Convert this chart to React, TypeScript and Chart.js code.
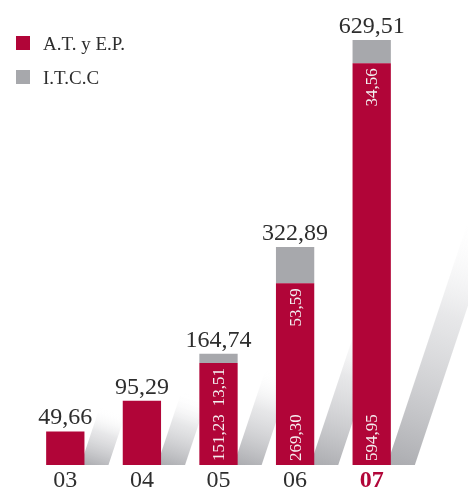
import React, { useEffect, useRef } from 'react';
import { Chart, registerables } from 'chart.js';

Chart.register(...registerables);

const categories = ['03', '04', '05', '06', '07'];
const atValues: (number | null)[] = [49.66, 95.29, 151.23, 269.3, 594.95];
const itccValues: (number | null)[] = [null, null, 13.51, 53.59, 34.56];
const seriesNames = ['A.T. y E.P.', 'I.T.C.C'];
const highlightIndex = 4;

const CRIMSON = '#B10538';
const GREY = '#A7A8AC';
const TEXT = '#2e2e2e';
const FONT = '"Liberation Serif", "Times New Roman", serif';

const fmt = (v: number) => v.toFixed(2).replace('.', ',');
const totals = categories.map((_, i) => (atValues[i] ?? 0) + (itccValues[i] ?? 0));

const stripesPlugin = {
  id: 'stripes',
  beforeDatasetsDraw(chart: any) {
    const ctx = chart.ctx;
    const meta = chart.getDatasetMeta(0);
    const yScale = chart.scales.y;
    meta.data.forEach((bar: any, i: number) => {
      const { x, width, base } = bar.getProps(['x', 'width', 'base'], true);
      const topY = yScale.getPixelForValue(totals[i]);
      const h = base - topY;
      const right = x + width / 2;
      const rise = 40 + 0.5 * h;
      const slope = 3;
      const w = 24;
      const dx = rise / slope;
      const g = ctx.createLinearGradient(right, base, right + dx, base - rise);
      g.addColorStop(0, 'rgba(150,151,156,0.8)');
      g.addColorStop(0.6, 'rgba(195,196,200,0.4)');
      g.addColorStop(1, 'rgba(255,255,255,0)');
      ctx.save();
      ctx.beginPath();
      ctx.moveTo(right - 4, base);
      ctx.lineTo(right + w, base);
      ctx.lineTo(right + w + dx, base - rise);
      ctx.lineTo(right - 4 + dx, base - rise);
      ctx.closePath();
      ctx.fillStyle = g;
      ctx.fill();
      ctx.restore();
    });
  },
};

const labelsPlugin = {
  id: 'barLabels',
  afterDatasetsDraw(chart: any) {
    const ctx = chart.ctx;
    const yScale = chart.scales.y;
    const meta0 = chart.getDatasetMeta(0);
    const inner = 17;
    meta0.data.forEach((bar: any, i: number) => {
      const { x, base } = bar.getProps(['x', 'base'], true);
      const topY = yScale.getPixelForValue(totals[i]);
      ctx.save();
      ctx.font = `24px ${FONT}`;
      ctx.fillStyle = TEXT;
      ctx.textAlign = 'center';
      ctx.textBaseline = 'alphabetic';
      ctx.fillText(fmt(totals[i]), x, topY - 7);
      ctx.restore();
      const g = itccValues[i];
      if (g == null) return;
      ctx.save();
      ctx.font = `${inner}px ${FONT}`;
      ctx.fillStyle = '#f6eef0';
      ctx.textBaseline = 'middle';
      ctx.translate(x, base - 4);
      ctx.rotate(-Math.PI / 2);
      ctx.textAlign = 'left';
      ctx.fillText(fmt(atValues[i] as number), 0, 1);
      ctx.restore();
      const boundary = yScale.getPixelForValue(atValues[i] as number);
      const segH = boundary - topY;
      ctx.save();
      ctx.font = `${inner}px ${FONT}`;
      ctx.fillStyle = '#f2f2f2';
      ctx.textBaseline = 'middle';
      const tw = ctx.measureText(fmt(g)).width;
      if (segH >= tw + 8) {
        ctx.translate(x, (boundary + topY) / 2);
        ctx.rotate(-Math.PI / 2);
        ctx.textAlign = 'center';
      } else {
        ctx.translate(x, boundary + 5);
        ctx.rotate(-Math.PI / 2);
        ctx.textAlign = 'right';
      }
      ctx.fillText(fmt(g), 0, 1);
      ctx.restore();
    });
  },
};

const legendPlugin = {
  id: 'customLegend',
  afterDraw(chart: any) {
    const ctx = chart.ctx;
    const colors = [CRIMSON, GREY];
    ctx.save();
    seriesNames.forEach((name, i) => {
      const y = 36 + i * 34;
      ctx.fillStyle = colors[i];
      ctx.fillRect(16, y, 14, 14);
      ctx.font = `19px ${FONT}`;
      ctx.fillStyle = TEXT;
      ctx.textAlign = 'left';
      ctx.textBaseline = 'alphabetic';
      ctx.fillText(name, 43, y + 14);
    });
    ctx.restore();
  },
};

export default function App() {
  const ref = useRef<HTMLCanvasElement>(null);
  useEffect(() => {
    if (!ref.current) return;
    const chart = new Chart(ref.current, {
      type: 'bar',
      data: {
        labels: categories,
        datasets: [
          { label: seriesNames[0], data: atValues, backgroundColor: CRIMSON, borderWidth: 0 },
          { label: seriesNames[1], data: itccValues, backgroundColor: GREY, borderWidth: 0 },
        ],
      },
      options: {
        responsive: false,
        animation: false,
        layout: { padding: { top: 40, left: 27, right: 58, bottom: 0 } },
        datasets: { bar: { barPercentage: 0.5, categoryPercentage: 1 } },
        plugins: { legend: { display: false }, tooltip: { enabled: false } },
        scales: {
          x: {
            stacked: true,
            grid: { display: false, drawTicks: false },
            border: { display: false },
            ticks: {
              padding: 4,
              color: (c: any) => (c.index === highlightIndex ? CRIMSON : TEXT),
              font: (c: any) => ({
                family: FONT,
                size: 24,
                lineHeight: 1,
                weight: c.index === highlightIndex ? 'bold' : 'normal',
              }),
            },
          },
          y: {
            stacked: true,
            display: false,
            min: 0,
            max: Math.max(...totals),
          },
        },
      },
      plugins: [stripesPlugin, labelsPlugin, legendPlugin],
    });
    return () => chart.destroy();
  }, []);
  return (
    <div style={{ position: 'fixed', left: 0, top: 0, width: 468, height: 497, background: '#fff' }}>
      <canvas ref={ref} width={468} height={497} style={{ width: 468, height: 497, display: 'block' }} />
    </div>
  );
}
